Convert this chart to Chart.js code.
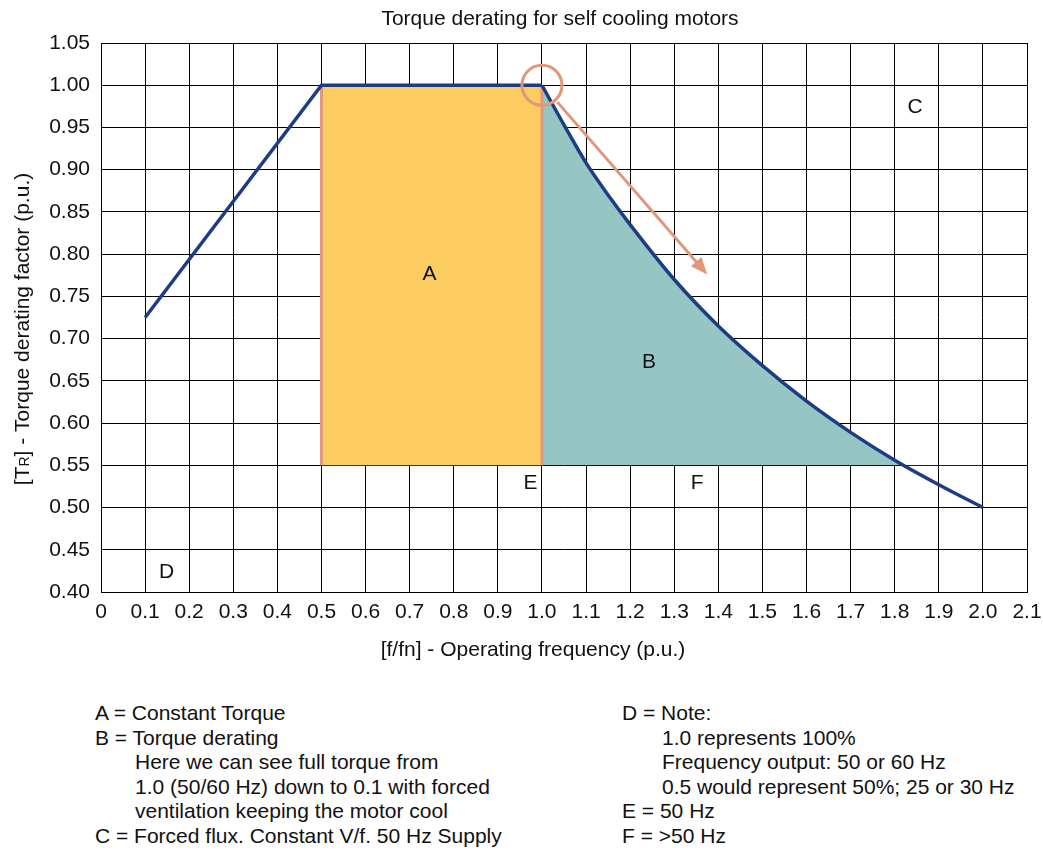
<!DOCTYPE html>
<html>
<head>
<meta charset="utf-8">
<script src="https://cdn.jsdelivr.net/npm/chart.js@4.4.1/dist/chart.umd.min.js"></script>
<style>
body { margin: 0; background: #fff; font-family: "Liberation Sans", Arial, sans-serif; color: #111; }
#wrap { position: absolute; left: 0; top: 0; width: 1043px; height: 680px; }
.notes { position: absolute; font-size: 21px; line-height: 24.6px; white-space: nowrap; }
.notes .in { padding-left: 40px; }
</style>
</head>
<body>
<div id="wrap"><canvas id="torqueChart" width="1043" height="680"></canvas></div>
<div class="notes" style="left:95px; top:701px">
  <div>A = Constant Torque</div>
  <div>B = Torque derating</div>
  <div class="in">Here we can see full torque from</div>
  <div class="in">1.0 (50/60 Hz) down to 0.1 with forced</div>
  <div class="in">ventilation keeping the motor cool</div>
  <div>C = Forced flux. Constant V/f. 50 Hz Supply</div>
</div>
<div class="notes" style="left:622px; top:701px">
  <div>D = Note:</div>
  <div class="in">1.0 represents 100%</div>
  <div class="in">Frequency output: 50 or 60 Hz</div>
  <div class="in">0.5 would represent 50%; 25 or 30 Hz</div>
  <div>E = 50 Hz</div>
  <div>F = &gt;50 Hz</div>
</div>
<script>
// values
var riseFreq = [0.1, 0.5, 1.0];
var riseTorque = [0.725, 1.0, 1.0];
var deratingFreq = [1.0, 1.05, 1.1, 1.15, 1.2, 1.3, 1.4, 1.5, 1.6, 1.7, 1.8, 1.9, 2.0];
var deratingTorque = [1.0, 0.953, 0.908, 0.87, 0.835, 0.77, 0.715, 0.668, 0.626, 0.589, 0.556, 0.527, 0.5];
var constantFreq = [0.5, 1.0];
var constantTorque = [1.0, 1.0];
var floorTorque = 0.55;
var markerFreq = [0.5, 1.0];

var regionLabels = ['A', 'B', 'C', 'D', 'E', 'F'];
var labelFreq = [0.745, 1.243, 1.846, 0.149, 0.974, 1.352];
var labelTorque = [0.776, 0.672, 0.974, 0.424, 0.529, 0.529];

var circleAt = [1.0, 1.0];
var arrowFrom = [1.035, 0.98];
var arrowTo = [1.375, 0.776];

var chartTitle = 'Torque derating for self cooling motors';
var xTitle = '[f/fn] - Operating frequency (p.u.)';

var navy = '#1d3c84';
var salmon = '#e0977b';
var yellow = '#fdcc60';
var teal = '#95c6c4';
var FONT = '"Liberation Sans", Arial, sans-serif';

function pts(xs, ys) {
  return xs.map(function (x, i) { return { x: x, y: ys[i] }; });
}

function markerLine(f) {
  return {
    data: [{ x: f, y: floorTorque }, { x: f, y: constantTorque[0] }],
    borderColor: salmon, borderWidth: 3, pointRadius: 0, fill: false
  };
}

var extras = {
  id: 'extras',
  afterDraw: function (chart) {
    var ctx = chart.ctx, xs = chart.scales.x, ys = chart.scales.y;
    ctx.save();
    // circle and arrow
    ctx.strokeStyle = salmon;
    ctx.fillStyle = salmon;
    ctx.lineWidth = 3;
    ctx.beginPath();
    ctx.arc(xs.getPixelForValue(circleAt[0]), ys.getPixelForValue(circleAt[1]), 20, 0, Math.PI * 2);
    ctx.stroke();
    var x1 = xs.getPixelForValue(arrowFrom[0]), y1 = ys.getPixelForValue(arrowFrom[1]);
    var x2 = xs.getPixelForValue(arrowTo[0]), y2 = ys.getPixelForValue(arrowTo[1]);
    var ang = Math.atan2(y2 - y1, x2 - x1);
    var hl = 17, hw = 7;
    ctx.beginPath();
    ctx.moveTo(x1, y1);
    ctx.lineTo(x2 - hl * 0.8 * Math.cos(ang), y2 - hl * 0.8 * Math.sin(ang));
    ctx.stroke();
    ctx.beginPath();
    ctx.moveTo(x2, y2);
    ctx.lineTo(x2 - hl * Math.cos(ang) + hw * Math.sin(ang), y2 - hl * Math.sin(ang) - hw * Math.cos(ang));
    ctx.lineTo(x2 - hl * Math.cos(ang) - hw * Math.sin(ang), y2 - hl * Math.sin(ang) + hw * Math.cos(ang));
    ctx.closePath();
    ctx.fill();

    // region letters
    ctx.fillStyle = '#111';
    ctx.font = '21px ' + FONT;
    ctx.textAlign = 'center';
    ctx.textBaseline = 'middle';
    regionLabels.forEach(function (t, i) {
      ctx.fillText(t, xs.getPixelForValue(labelFreq[i]), ys.getPixelForValue(labelTorque[i]));
    });

    // titles
    ctx.fillText(chartTitle, 560, 19);
    ctx.fillText(xTitle, 533, 650);

    // y title with small R
    var parts = [['[T', 21], ['R', 14], ['] - Torque derating factor (p.u.)', 21]];
    var total = 0;
    parts.forEach(function (p) { ctx.font = p[1] + 'px ' + FONT; total += ctx.measureText(p[0]).width; });
    ctx.translate(22, 329);
    ctx.rotate(-Math.PI / 2);
    ctx.textAlign = 'left';
    ctx.textBaseline = 'alphabetic';
    var cx = -total / 2;
    parts.forEach(function (p) {
      ctx.font = p[1] + 'px ' + FONT;
      ctx.fillText(p[0], cx, 7);
      cx += ctx.measureText(p[0]).width;
    });
    ctx.restore();
  }
};

var ctx = document.getElementById('torqueChart').getContext('2d');
var chart = new Chart(ctx, {
  type: 'line',
  data: {
    datasets: [
      { data: pts(riseFreq, riseTorque), borderColor: navy, borderWidth: 3.5, pointRadius: 0, tension: 0, fill: false },
      {
        data: pts(deratingFreq, deratingTorque), borderColor: navy, borderWidth: 3.5, pointRadius: 0,
        cubicInterpolationMode: 'monotone',
        fill: { target: { value: floorTorque }, above: teal, below: 'rgba(0,0,0,0)' }
      },
      markerLine(markerFreq[0]),
      markerLine(markerFreq[1]),
      {
        data: pts(constantFreq, constantTorque), borderWidth: 0, pointRadius: 0,
        backgroundColor: yellow, fill: { target: { value: floorTorque } }
      }
    ]
  },
  options: {
    responsive: false,
    animation: false,
    layout: { padding: { top: 43, right: 16, left: 0, bottom: 0 } },
    plugins: {
      legend: { display: false },
      tooltip: { enabled: false },
      filler: { drawTime: 'beforeDatasetsDraw' }
    },
    scales: {
      x: {
        type: 'linear', min: 0, max: 2.1,
        afterFit: function (s) { s.height = 88; s.paddingRight = 0; s.paddingLeft = 0; },
        grid: { color: '#000', lineWidth: 1, drawTicks: false },
        border: { color: '#000' },
        ticks: {
          stepSize: 0.1, padding: 8, color: '#111', font: { family: FONT, size: 21 },
          maxRotation: 0, autoSkip: false,
          callback: function (v) { return v === 0 ? '0' : v.toFixed(1); }
        }
      },
      y: {
        min: 0.4, max: 1.05,
        afterFit: function (s) { s.width = 101; },
        grid: { color: '#000', lineWidth: 1, drawTicks: false },
        border: { color: '#000' },
        ticks: {
          stepSize: 0.05, padding: 11, color: '#111', font: { family: FONT, size: 21 },
          callback: function (v) { return v.toFixed(2); }
        }
      }
    }
  },
  plugins: [extras]
});
</script>
</body>
</html>
